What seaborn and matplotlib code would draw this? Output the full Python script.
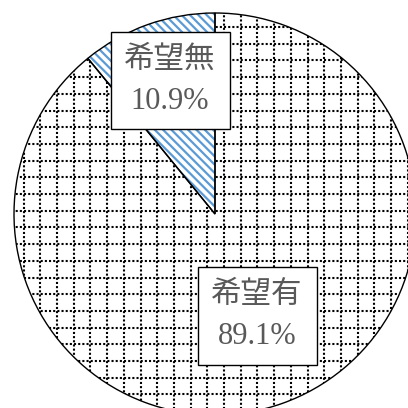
import numpy as np
import matplotlib
matplotlib.use("Agg")
import matplotlib.pyplot as plt
import matplotlib.patches as mpatches
import seaborn as sns

# Data
categories = ["希望無", "希望有"]
values = [10.9, 89.1]
pct_labels = ["10.9%", "89.1%"]

sns.set_theme(style="white")
plt.rcParams['font.family'] = ['Liberation Serif', 'Noto Sans CJK JP']
plt.rcParams['hatch.linewidth'] = 1.6

fig = plt.figure(figsize=(4.08, 4.08), dpi=100)
fig.patch.set_facecolor("white")
ax = fig.add_axes([14/408, -7/408, 402/408, 402/408])

blue = "#5B9BD5"
wedges, _ = ax.pie(values, startangle=90, counterclock=True, radius=1.0,
                   colors=["white", "white"],
                   wedgeprops=dict(edgecolor="black", linewidth=1.0))
ax.set_xlim(-1, 1)
ax.set_ylim(-1, 1)
ax.set_aspect("equal")
ax.axis("off")
for w in wedges:
    w.set_clip_on(False)

# hatch for small slice (blue diagonal)
w0 = wedges[0]
hw = mpatches.Wedge(w0.center, w0.r, w0.theta1, w0.theta2, facecolor="white",
                    edgecolor=blue, hatch="\\\\\\\\", linewidth=0, zorder=1)
hw.set_clip_on(False)
ax.add_patch(hw)
w0.set_facecolor("none")
w0.set_zorder(3)

# dotted grid pattern for the large slice
w1 = wedges[1]
w1.set_zorder(3)
w1.set_facecolor("none")
clipw = mpatches.Wedge(w1.center, w1.r, w1.theta1, w1.theta2, facecolor="white",
                       edgecolor="none", zorder=1)
clipw.set_clip_on(False)
ax.add_patch(clipw)
step = 16.7 / 201
xs = -0.038 + step * np.arange(-15, 15)
ys = 0.0995 + step * np.arange(-15, 15)
ls = (0, (1.0, 1.0))
for x in xs:
    l = ax.plot([x, x], [-1.1, 1.1], color="black", linewidth=1.5,
                linestyle=ls, zorder=2)[0]
    l.set_clip_path(clipw)
for y in ys:
    l = ax.plot([-1.1, 1.1], [y, y], color="black", linewidth=1.5,
                linestyle=ls, zorder=2)[0]
    l.set_clip_path(clipw)
ax.set_xlim(-1, 1)
ax.set_ylim(-1, 1)

# labels
dists = [0.70, 0.55]
offsets = [-1.0, 2.8]
for w, cat, pct, d, off in zip(wedges, categories, pct_labels, dists, offsets):
    ang = np.deg2rad((w.theta1 + w.theta2) / 2 + off)
    x, y = d * np.cos(ang), d * np.sin(ang)
    ax.text(x, y, f"{cat}\n{pct}", ha="center", va="center", fontsize=22,
            color="#595959", linespacing=1.55, zorder=5,
            bbox=dict(boxstyle="square,pad=0.45", facecolor="white",
                      edgecolor="black", linewidth=1.0))

fig.savefig("out.png", dpi=100, facecolor="white")
